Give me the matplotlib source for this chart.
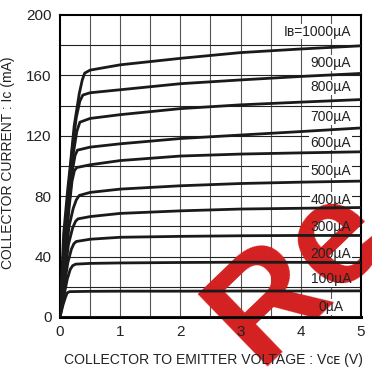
import matplotlib
matplotlib.use("Agg")
import matplotlib.pyplot as plt
import numpy as np

plt.rcParams['font.family'] = ['Liberation Sans', 'DejaVu Sans']

# base current of each curve (uA) and the (Vce, Ic) points of that curve
ib_ua = [1000, 900, 800, 700, 600, 500, 400, 300, 200, 100, 0]

vce = {
    1000: [0, 0.06, 0.128, 0.18, 0.235, 0.32, 0.37, 0.41, 0.5, 1, 2, 3, 4, 5],
    900: [0, 0.07, 0.14, 0.2, 0.27, 0.33, 0.38, 0.5, 1, 2, 3, 4, 5],
    800: [0, 0.07, 0.15, 0.22, 0.28, 0.33, 0.5, 1, 2, 3, 4, 5],
    700: [0, 0.07, 0.15, 0.21, 0.25, 0.29, 0.5, 1, 2, 3, 4, 5],
    600: [0, 0.07, 0.15, 0.2, 0.24, 0.28, 0.5, 1, 2, 3, 4, 5],
    500: [0, 0.07, 0.15, 0.22, 0.27, 0.32, 0.5, 1, 2, 3, 4, 5],
    400: [0, 0.07, 0.14, 0.21, 0.26, 0.3, 0.5, 1, 2, 3, 4, 5],
    300: [0, 0.06, 0.13, 0.19, 0.23, 0.27, 0.5, 1, 2, 3, 4, 5],
    200: [0, 0.06, 0.12, 0.17, 0.21, 0.26, 0.5, 1, 2, 3, 4, 5],
    100: [0, 0.05, 0.09, 0.12, 0.16, 0.5, 1, 2, 3, 4, 5],
    0: [0, 5],
}
ic = {
    1000: [0, 55, 84.5, 104, 126.5, 148, 157, 161.5, 163.5, 167, 171.3, 175.1, 177.5, 179.6],
    900: [0, 50, 84, 110, 132, 143, 147, 148.5, 150.5, 154.5, 157, 159.3, 161.3],
    800: [0, 45, 80, 108, 123, 129, 131.5, 134, 138, 140.5, 142.3, 144],
    700: [0, 40, 75, 98, 107, 110.5, 112.5, 114.7, 118.2, 120.5, 122.8, 125.2],
    600: [0, 37, 72, 90, 97, 99, 100.8, 103.6, 106.6, 107.9, 108.7, 109.4],
    500: [0, 30, 60, 72, 77.5, 80.5, 82.5, 84.7, 86.9, 88.4, 89.3, 90],
    400: [0, 25, 48, 59, 63.5, 65, 66.5, 68.6, 70.3, 71.5, 72, 72.5],
    300: [0, 18, 36, 45, 48.5, 50, 51.5, 52.8, 53.4, 53.8, 54, 54],
    200: [0, 13, 25, 31.5, 34, 35, 35.5, 35.8, 36.1, 36.3, 36.2, 36],
    100: [0, 8, 13, 16, 16.8, 17, 17.1, 17.1, 17.2, 17.2, 17.3],
    0: [0, 0],
}

# label text and its place on the (Vce, Ic) axes
curve_labels = ['I\u0299=1000\u00b5A', '900\u00b5A', '800\u00b5A', '700\u00b5A', '600\u00b5A',
                '500\u00b5A', '400\u00b5A', '300\u00b5A', '200\u00b5A', '100\u00b5A', '0\u00b5A']
label_ic = [189, 168, 152, 132.5, 115.5, 97, 77.5, 59.5, 42, 25, 6.5]
label_v = [4.84, 4.83, 4.83, 4.83, 4.83, 4.83, 4.84, 4.84, 4.84, 4.84, 4.71]

x_ticks = [0, 1, 2, 3, 4, 5]
y_ticks = [0, 40, 80, 120, 160, 200]
x_grid = np.arange(0.5, 5, 0.5)
y_grid = np.arange(20, 200, 20)

fig = plt.figure(figsize=(3.72, 3.67), dpi=100)
ax = fig.add_axes([60 / 372, 50 / 367, 301 / 372, 302 / 367])

# grid drawn by hand so the watermark can sit between it and the tick labels
for xv in x_grid:
    ax.axvline(xv, color='#555555', lw=0.8, zorder=1)
for yv in y_grid:
    ax.axhline(yv, color='#222222', lw=0.8, zorder=1)

for ib in ib_ua:
    ax.plot(vce[ib], ic[ib], color='#1a1a1a', lw=2.0, solid_joinstyle='round',
            solid_capstyle='round', zorder=3)

# white patches behind the labels cut the grid; the text itself goes on top
for lab, yv, xv in zip(curve_labels, label_ic, label_v):
    ax.text(xv, yv, lab, ha='right', va='center', fontsize=10, color='none',
            bbox=dict(facecolor='white', edgecolor='none', pad=0.6), zorder=1.2)
    ax.text(xv, yv, lab, ha='right', va='center', fontsize=10, color='#222222', zorder=4)

ax.set_xlim(0, 5)
ax.set_ylim(0, 200)
ax.set_xticks(x_ticks)
ax.set_yticks(y_ticks)
ax.tick_params(length=0, labelsize=11, colors='#222222', pad=6)
for side in ['top', 'right', 'left']:
    ax.spines[side].set_linewidth(1.5)
ax.spines['bottom'].set_linewidth(2.2)

ax.set_xlabel('COLLECTOR TO EMITTER VOLTAGE : V\u1d04\u1d07 (V)', fontsize=10.1, color='#222222')
ax.set_ylabel('COLLECTOR CURRENT : I\u1d04 (mA)', fontsize=10, color='#222222')
ax.xaxis.set_label_coords(0.51, -0.118)
ax.yaxis.set_label_coords(-0.15, 0.51)

# watermark across the lower right corner, over the grid but under the curves
ax.text(258 / 372, 1 - 366 / 367, 'Re', transform=fig.transFigure, fontsize=105,
        fontweight='bold', color='#d42020', rotation=44, ha='left', va='baseline',
        rotation_mode='anchor', zorder=1.5, clip_on=False)

fig.savefig('out.png', dpi=100)
